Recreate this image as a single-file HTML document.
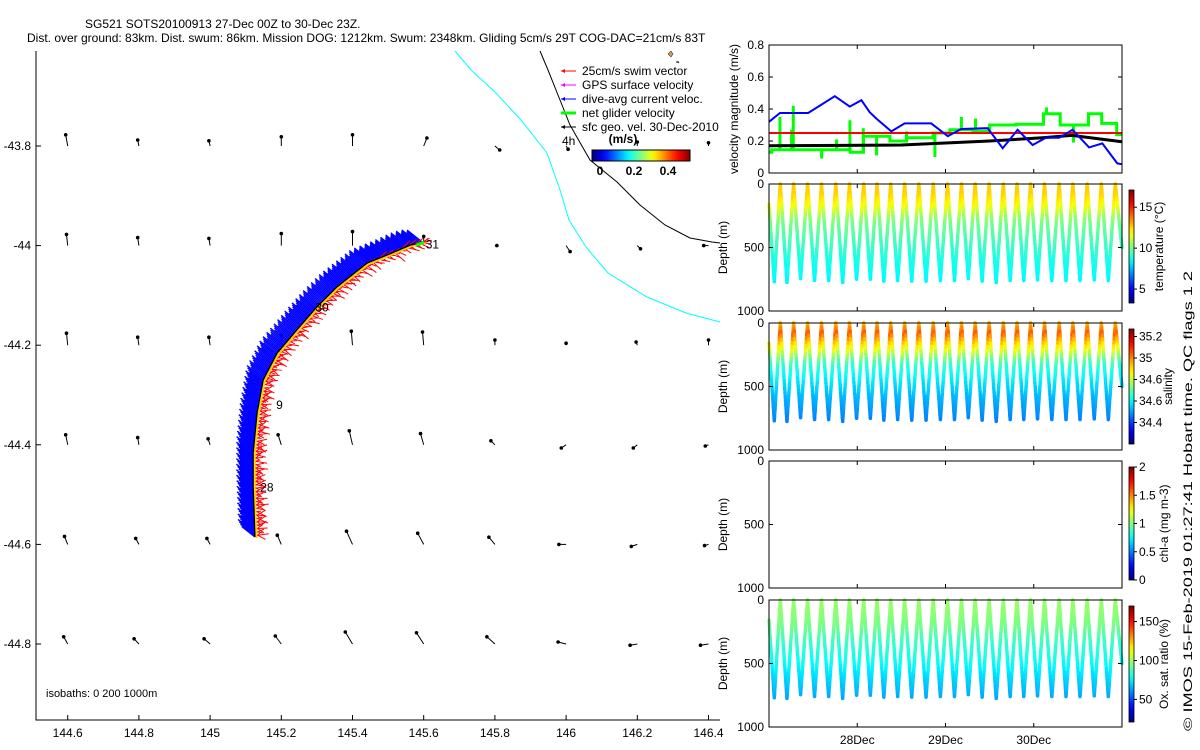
<!DOCTYPE html>
<html><head><meta charset="utf-8"><style>
html,body{margin:0;padding:0;background:#fff;}
svg{display:block;font-family:"Liberation Sans",sans-serif;}
</style></head><body>
<svg id="fig" width="1200" height="750" viewBox="0 0 1200 750" xmlns="http://www.w3.org/2000/svg">
<defs>
<linearGradient id="jetH" x1="0" y1="0" x2="1" y2="0"></linearGradient>
<linearGradient id="jetV" x1="0" y1="1" x2="0" y2="0"></linearGradient>
</defs>
<text x="85" y="28" font-size="12">SG521 SOTS20100913 27-Dec 00Z to 30-Dec 23Z.</text>
<text x="27" y="42" font-size="12">Dist. over ground: 83km. Dist. swum: 86km. Mission DOG: 1212km. Swum: 2348km. Gliding 5cm/s 29T COG-DAC=21cm/s 83T</text>
<g id="map"></g>
<g id="vel"></g>
<g id="panels"></g>
<text transform="translate(1192,731) rotate(-90)" font-size="12" textLength="460" lengthAdjust="spacingAndGlyphs">© IMOS 15-Feb-2019 01:27:41 Hobart time. QC flags 1  2</text>
</svg>
<script>
// ---------- data ----------
const xTickLabels = ["144.6","144.8","145","145.2","145.4","145.6","145.8","146","146.2","146.4"];
const yTickLabels = ["-43.8","-44","-44.2","-44.4","-44.6","-44.8"];
const gridLon = [144.6,144.8,145.0,145.2,145.4,145.6,145.8,146.0,146.2,146.4];
const gridLat = [-43.8,-44.0,-44.2,-44.4,-44.6,-44.8];
const curU = [
 [-0.05,-0.03,-0.03,0,0,0.08,0.12,0.05,0,0],
 [-0.03,-0.03,-0.03,0,0,0,0.05,0.1,0.08,-0.12],
 [-0.03,-0.03,-0.03,0,-0.03,-0.03,0,0,-0.03,0],
 [-0.05,-0.03,-0.05,-0.08,-0.08,-0.08,-0.1,-0.12,-0.1,-0.08],
 [-0.08,-0.08,-0.08,-0.1,-0.15,-0.15,-0.15,-0.18,-0.15,-0.1],
 [-0.1,-0.12,-0.15,-0.15,-0.18,-0.18,-0.2,-0.2,-0.18,-0.2]];
const curV = [
 [0.28,0.15,0.13,0.23,0.28,0.2,-0.1,-0.08,0.1,0.08],
 [0.28,0.2,0.18,0.3,0.35,0.23,0,-0.15,-0.08,0],
 [0.3,0.2,0.2,0.25,0.35,0.33,0.13,0.05,0.08,0.13],
 [0.25,0.18,0.15,0.25,0.35,0.28,0.1,-0.08,-0.08,-0.03],
 [0.2,0.15,0.15,0.23,0.33,0.28,0.18,0,-0.05,-0.03],
 [0.18,0.13,0.13,0.2,0.3,0.28,0.18,0.05,-0.03,-0.03]];
const trackLon = [145.126,145.121,145.121,145.132,145.149,145.188,145.244,145.300,145.356,145.441,145.497,145.562,145.601];
const trackLat = [-44.585,-44.485,-44.416,-44.336,-44.270,-44.216,-44.169,-44.123,-44.083,-44.035,-44.019,-43.999,-43.993];
const dayLabels = ["28","9","30","31"];
const dayLabelLon = [145.135,145.18,145.29,145.6];
const dayLabelLat = [-44.486,-44.32,-44.124,-43.998];
const blueT = [0,0.124,0.444,0.746,0.915,1.047,1.141,1.217,1.386,1.537,1.838,2.026,2.177,2.478,2.648,2.817,2.987,3.138,3.288,3.439,3.627,3.777,3.947,4.0];
const blueV = [0.32,0.375,0.375,0.48,0.415,0.455,0.38,0.34,0.26,0.31,0.31,0.23,0.275,0.28,0.155,0.27,0.175,0.22,0.22,0.27,0.16,0.185,0.06,0.055];
const blackT = [0,1.5,2.5,3.1,3.43,4.0];
const blackV = [0.17,0.175,0.2,0.22,0.235,0.195];
const swimSpeed = 0.25;
const greenT = [0,0.03,0.92,1.07,1.37,1.56,1.86,2.05,2.31,2.5,2.8,3.11,3.3,3.62,3.77,3.94,4.0];
const greenV = [0.13,0.145,0.13,0.23,0.2,0.22,0.25,0.27,0.26,0.3,0.305,0.37,0.3,0.37,0.31,0.24,0.24];
const spikeT = [0.124,0.256,0.275,0.596,0.766,0.917,1.068,1.219,1.558,1.88,2.18,2.34,3.145,3.45];
const spikeV = [0.35,0.27,0.42,0.09,0.21,0.33,0.28,0.11,0.26,0.1,0.35,0.34,0.41,0.19];
const velTicks = [0,0.2,0.4,0.6,0.8];
const surfT = [0.128,0.279,0.437,0.595,0.757,0.912,1.073,1.224,1.379,1.537,1.698,1.861,2.023,2.181,2.336,2.494,2.655,2.810,2.964,3.122,3.288,3.443,3.605,3.766,3.924];
const bottomDepth = [770,775,745,760,760,775,750,750,765,760,765,765,760,760,745,765,775,760,760,755,760,760,760,755,760];
const startDepth = 160, endDepth = 500;
const dateLabels = ["28Dec","29Dec","30Dec"];
const dateT = [1,2,3];
const profDepth = [0,80,150,220,260,320,450,600,780];
const tempProf = [12.6,12.5,12.0,11.1,10.5,10.0,9.4,8.8,8.3];
const salProf = [34.93,35.04,34.92,34.83,34.75,34.66,34.58,34.52,34.46];
const oxyProf = [99,98,96,93,90,86,80,72,63];
// ---------- helpers ----------
const NS="http://www.w3.org/2000/svg";
function el(tag,attrs,parent){const e=document.createElementNS(NS,tag);for(const k in attrs)e.setAttribute(k,attrs[k]);parent.appendChild(e);return e;}
function clamp(x){return Math.max(0,Math.min(1,x));}
function jet(f){f=clamp(f);const r=clamp(1.5-Math.abs(4*f-3)),g=clamp(1.5-Math.abs(4*f-2)),b=clamp(1.5-Math.abs(4*f-1));return `rgb(${Math.round(r*255)},${Math.round(g*255)},${Math.round(b*255)})`;}
function interp(xs,ys,x){if(x<=xs[0])return ys[0];for(let i=1;i<xs.length;i++){if(x<=xs[i]){const f=(x-xs[i-1])/(xs[i]-xs[i-1]);return ys[i-1]+f*(ys[i]-ys[i-1]);}}return ys[ys.length-1];}
['jetH','jetV'].forEach(id=>{const g=document.getElementById(id);for(let i=0;i<=20;i++){el('stop',{offset:(i/20),'stop-color':jet(i/20)},g);}});
// ---------- map ----------
const map=document.getElementById('map');
const mx=lon=>67.7+(lon-144.6)*356;
const my=lat=>146+(-43.8-lat)*498;
const MAPL=36,MAPB=720,MAPT=51,MAPR=720;
const cyanPts=[[455,51],[471,70],[495,92],[521,120],[547,153],[560,190],[569,220],[586,247],[608,273],[647,297],[686,313],[720,322]];
const blackPts=[[540,51],[548,70],[558,95],[570,125],[590,160],[617,182],[640,205],[665,225],[690,238],[712,242],[720,243]];
let iso1=el('polyline',{points:cyanPts.map(p=>p.join(',')).join(' '),fill:'none',stroke:'#00ffff','stroke-width':1},map);


let iso2=el('polyline',{points:blackPts.map(p=>p.join(',')).join(' '),fill:'none',stroke:'#000','stroke-width':1},map);


let isl=el('path',{d:'M668,54 l3,-3 l2,3 l-2,3 z M676,62 l2,-1 l1,2 z',fill:'#d29a60',stroke:'#000','stroke-width':0.5},map);


let ax=el('path',{d:`M${MAPL},${MAPT} L${MAPL},${MAPB} L${MAPR},${MAPB}`,fill:'none',stroke:'#000','stroke-width':1},map);


gridLon.forEach((lon,i)=>{const x=mx(lon);el('line',{x1:x,y1:MAPB,x2:x,y2:MAPB-5,stroke:'#000'},map);
 let t=el('text',{x:x,y:MAPB+17,'font-size':12,'text-anchor':'middle'},map);t.textContent=xTickLabels[i];
 
 });
gridLat.forEach((lat,i)=>{const y=my(lat);el('line',{x1:MAPL,y1:y,x2:MAPL+5,y2:y,stroke:'#000'},map);
 let t=el('text',{x:MAPL-5,y:y+4,'font-size':12,'text-anchor':'end'},map);t.textContent=yTickLabels[i];
 
 });
const arrowScale=40;
gridLat.forEach((lat,r)=>gridLon.forEach((lon,c)=>{const x=mx(lon),y=my(lat);const x2=x+curU[r][c]*arrowScale,y2=y-curV[r][c]*arrowScale;
 const g=el('g',{},map);
 
 
 el('line',{x1:x,y1:y,x2:x2,y2:y2,stroke:'#000','stroke-width':1},g);
 el('circle',{cx:x2,cy:y2,r:1.8,fill:'#000'},g);}));
const tp=trackLon.map((lon,i)=>[mx(lon),my(trackLat[i])]);
const fine=[];
for(let i=1;i<tp.length;i++){const [x0,y0]=tp[i-1],[x1,y1]=tp[i];const L=Math.hypot(x1-x0,y1-y0);const n=Math.max(1,Math.round(L/1.4));for(let k=0;k<n;k++){const f=k/n;fine.push([x0+f*(x1-x0),y0+f*(y1-y0),(x1-x0)/L,(y1-y0)/L]);}}
const blueG=el('g',{stroke:'#0000ff','stroke-width':1.4},map);


const redG=el('g',{stroke:'#ff0000','stroke-width':1},map);


fine.forEach((p,i)=>{const [x,y,dx,dy]=p;
 const bl=17+(i%4)*1.5;const bx=-0.78,by=-0.62;
 el('line',{x1:x,y1:y,x2:x+bx*bl,y2:y+by*bl},blueG);
 const rl=6+((i*7)%9);const ang=((i*37)%90-45)*Math.PI/180;
 el('line',{x1:x+1,y1:y,x2:x+1+Math.cos(ang)*rl,y2:y+Math.sin(ang)*rl},redG);});
let ty=el('polyline',{points:tp.map(p=>(p[0]+1.5)+','+(p[1]+1)).join(' '),fill:'none',stroke:'#ffd000','stroke-width':2},map);


let tr=el('polyline',{points:tp.map(p=>p.join(',')).join(' '),fill:'none',stroke:'#000','stroke-width':1.3},map);


const last=tp[tp.length-1];
let gv=el('line',{x1:last[0]-8,y1:last[1]+3,x2:last[0],y2:last[1],stroke:'#00ff00','stroke-width':3},map);


dayLabels.forEach((s,i)=>{let t=el('text',{x:mx(dayLabelLon[i])+2,y:my(dayLabelLat[i])+4,'font-size':12},map);t.textContent=s;
 
 });
let iso=el('text',{x:46,y:697,'font-size':11},map);iso.textContent='isobaths: 0   200  1000m';


const legItems=[['25cm/s swim vector','#ff0000',1],['GPS surface velocity','#ff00ff',1],['dive-avg current veloc.','#0000ff',1],['net glider velocity','#00ff00',3],['sfc geo. vel. 30-Dec-2010','#000',1]];
legItems.forEach((it,i)=>{const y=71+i*14;const g=el('g',{},map);
 
 
 el('line',{x1:561,y1:y,x2:576,y2:y,stroke:it[1],'stroke-width':it[2]},g);
 el('path',{d:`M561,${y} l4,-2 l0,4 z`,fill:it[1]},g);
 const t=el('text',{x:582,y:y+4,'font-size':12},g);t.textContent=it[0];});
let h4=el('text',{x:562,y:145,'font-size':12},map);h4.textContent='4h';


let cbt=el('text',{x:623,y:143,'font-size':12,'font-weight':'bold','text-anchor':'middle'},map);cbt.textContent='(m/s)';


let cb=el('rect',{x:592,y:150,width:98,height:11,fill:'url(#jetH)',stroke:'#000','stroke-width':1},map);


[['0',600],['0.2',634],['0.4',668]].forEach(a=>{let t=el('text',{x:a[1],y:175,'font-size':12,'font-weight':'bold','text-anchor':'middle'},map);t.textContent=a[0];
 
 });
// ---------- right panels ----------
const PL=769,PR=1122;
const px=t=>PL+t*(PR-PL)/4;
function frame(g,top,bot){el('rect',{x:PL,y:top,width:PR-PL,height:bot-top,fill:'none',stroke:'#000','stroke-width':1},g);
 dateT.forEach(t=>{el('line',{x1:px(t),y1:bot,x2:px(t),y2:bot-4,stroke:'#000'},g);el('line',{x1:px(t),y1:top,x2:px(t),y2:top+4,stroke:'#000'},g);});}
const vel=document.getElementById('vel');
const VT=45,VB=173;const vy=v=>VB-v*(VB-VT)/0.8;
velTicks.forEach(v=>{el('line',{x1:PL,y1:vy(v),x2:PL+4,y2:vy(v),stroke:'#000'},vel);el('line',{x1:PR,y1:vy(v),x2:PR-4,y2:vy(v),stroke:'#000'},vel);
 let t=el('text',{x:PL-5,y:vy(v)+4,'font-size':12,'text-anchor':'end'},vel);t.textContent=String(v);
 
 });
let vl=el('text',{transform:`translate(738,${(VT+VB)/2}) rotate(-90)`,'font-size':12,'text-anchor':'middle'},vel);vl.textContent='velocity magnitude (m/s)';


let gp='';greenT.forEach((t,i)=>{if(i===0)gp+=`M${px(t)},${vy(greenV[i])}`;else gp+=` L${px(t)},${vy(greenV[i-1])} L${px(t)},${vy(greenV[i])}`;});
let gl=el('path',{d:gp,fill:'none',stroke:'#00ff00','stroke-width':3},vel);


function stepVal(t){let v=greenV[0];for(let j=0;j<greenT.length;j++){if(greenT[j]<=t)v=greenV[j];}return v;}
spikeT.forEach((t,i)=>{let s=el('line',{x1:px(t),y1:vy(stepVal(t)),x2:px(t),y2:vy(spikeV[i]),stroke:'#00ff00','stroke-width':3},vel);
 
 });
let rl=el('line',{x1:PL,y1:vy(swimSpeed),x2:PR,y2:vy(swimSpeed),stroke:'#ff0000','stroke-width':2},vel);


let bk=el('polyline',{points:blackT.map((t,i)=>px(t)+','+vy(blackV[i])).join(' '),fill:'none',stroke:'#000','stroke-width':3},vel);


let bl=el('polyline',{points:blueT.map((t,i)=>px(t)+','+vy(blueV[i])).join(' '),fill:'none',stroke:'#0000ff','stroke-width':2},vel);


frame(vel,VT,VB);
const panels=[
 {name:'temperature',top:184,cb:[190,303],prof:tempProf,min:3.3,max:17.1,ticks:[5,10,15],tl:['5','10','15'],label:'temperature (°C)',lx:1163},
 {name:'salinity',top:323,cb:[329,444],prof:salProf,min:34.2,max:35.27,ticks:[34.4,34.6,34.8,35,35.2],tl:['34.4','34.6','34.6','35','35.2'],label:'salinity',lx:1172},
 {name:'chlorophyll',top:461,cb:[467,580],prof:null,min:0,max:2,ticks:[0,0.5,1,1.5,2],tl:['0','0.5','1','1.5','2'],label:'chl-a (mg m-3)',lx:1168},
 {name:'oxygen',top:600,cb:[606,722],prof:oxyProf,min:21,max:170,ticks:[50,100,150],tl:['50','100','150'],label:'Ox. sat. ratio (%)',lx:1168}];
const PH=127;
const path=[[0,startDepth]];
surfT.forEach((t,i)=>{const prev=i===0?0:surfT[i-1];const bt=i===0?0.06:(prev+t)/2;path.push([bt,bottomDepth[i]]);path.push([t,0]);});
path.push([4.0,endDepth]);
const pg=document.getElementById('panels');
panels.forEach(P=>{const g=el('g',{},pg);
 
 
 const dy=d=>P.top+d*PH/1000;
 if(P.prof){const dg=el('g',{'stroke-width':3.4,'stroke-linecap':'round'},g);
  
  
  for(let i=1;i<path.length;i++){const [t0,d0]=path[i-1],[t1,d1]=path[i];const n=24;for(let k=0;k<n;k++){const fa=k/n,fb=(k+1)/n;const da=d0+fa*(d1-d0),db=d0+fb*(d1-d0);const val=interp(profDepth,P.prof,(da+db)/2);
   el('line',{x1:px(t0+fa*(t1-t0)),y1:dy(da),x2:px(t0+fb*(t1-t0)),y2:dy(db),stroke:jet((val-P.min)/(P.max-P.min))},dg);}}}
 frame(g,P.top,P.top+PH);
 [0,500,1000].forEach(d=>{el('line',{x1:PL,y1:dy(d),x2:PL+4,y2:dy(d),stroke:'#000'},g);el('line',{x1:PR,y1:dy(d),x2:PR-4,y2:dy(d),stroke:'#000'},g);
  const t=el('text',{x:PL-5,y:dy(d)+4,'font-size':12,'text-anchor':'end'},g);t.textContent=String(d);});
 const yl=el('text',{transform:`translate(727,${P.top+PH/2}) rotate(-90)`,'font-size':12,'text-anchor':'middle'},g);yl.textContent='Depth (m)';
 const cbr=el('rect',{x:1129,y:P.cb[0],width:5,height:P.cb[1]-P.cb[0],fill:'url(#jetV)',stroke:'#000','stroke-width':0.8},g);
 
 
 P.ticks.forEach((v,i)=>{const y=P.cb[1]-(v-P.min)/(P.max-P.min)*(P.cb[1]-P.cb[0]);el('line',{x1:1134,y1:y,x2:1137,y2:y,stroke:'#000'},g);
  const t=el('text',{x:1139,y:y+4,'font-size':12},g);t.textContent=P.tl[i];});
 const cl=el('text',{transform:`translate(${P.lx},${(P.cb[0]+P.cb[1])/2}) rotate(-90)`,'font-size':12,'text-anchor':'middle'},g);cl.textContent=P.label;
 
 });
dateLabels.forEach((s,i)=>{let t=el('text',{x:px(dateT[i]),y:744,'font-size':12,'text-anchor':'middle'},pg);t.textContent=s;
 
 });
</script>
</body></html>
